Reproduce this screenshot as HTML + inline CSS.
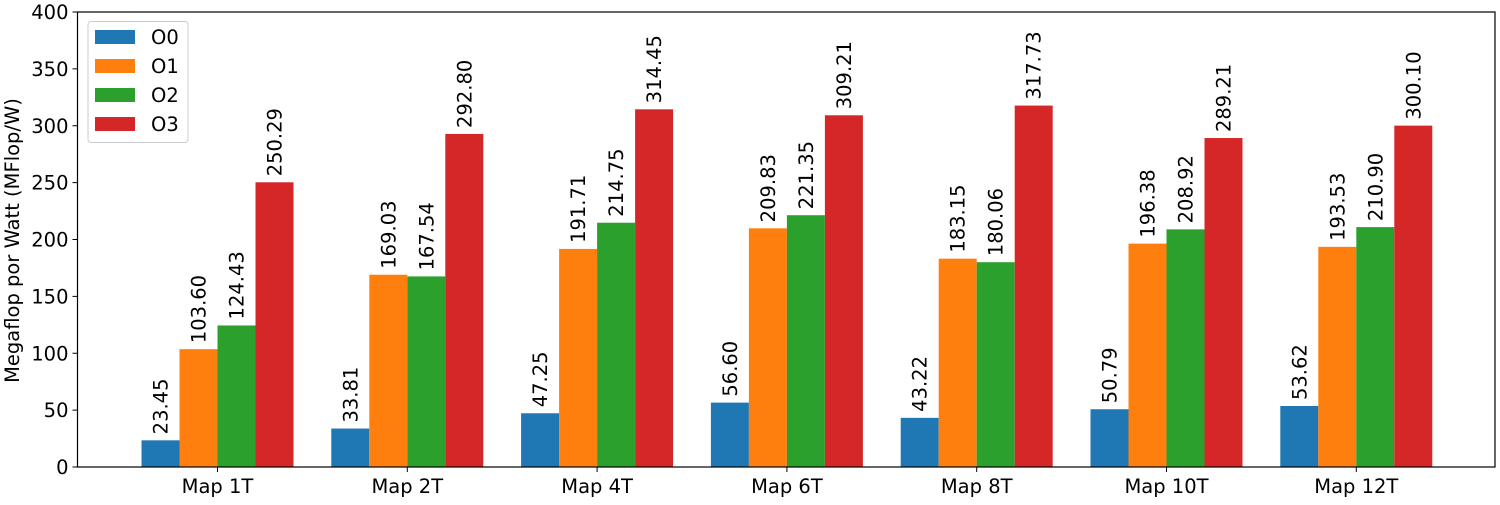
<!DOCTYPE html>
<html><head><meta charset="utf-8"><style>
body{margin:0;background:#fff}
text{font-family:"DejaVu Sans","Liberation Sans",sans-serif;fill:#000}
</style></head><body>
<svg id="chart" width="1500" height="500" xmlns="http://www.w3.org/2000/svg"></svg>
<script>
const categories=["Map 1T","Map 2T","Map 4T","Map 6T","Map 8T","Map 10T","Map 12T"];
const seriesNames=["O0","O1","O2","O3"];
const o0=[23.45,33.81,47.25,56.60,43.22,50.79,53.62];
const o1=[103.60,169.03,191.71,209.83,183.15,196.38,193.53];
const o2=[124.43,167.54,214.75,221.35,180.06,208.92,210.90];
const o3=[250.29,292.80,314.45,309.21,317.73,289.21,300.10];
const yTicks=[0,50,100,150,200,250,300,350,400];
const colors=["#1f77b4","#ff7f0e","#2ca02c","#d62728"];
const series=[o0,o1,o2,o3];
const NS="http://www.w3.org/2000/svg";
const svg=document.getElementById('chart');
const L=77.5,R=1495,T=12,B=467;
const FS=19.5;
const y=v=>B-(v/400)*(B-T);
const x=i=>217.5+i*189.8;
const bw=38;
function mk(tag,attrs,parent){const e=document.createElementNS(NS,tag);for(const k in attrs)e.setAttribute(k,attrs[k]);(parent||svg).appendChild(e);return e;}
series.forEach((s,si)=>{
  s.forEach((v,i)=>{
    const cx=x(i)+(si-1.5)*bw;
    const r=mk('rect',{x:cx-bw/2,y:y(v),width:bw,height:B-y(v),fill:colors[si]});
    
    
    const t=mk('text',{x:0,y:0,'font-size':FS,transform:`translate(${cx+7},${y(v)-6}) rotate(-90)`});
    t.textContent=v.toFixed(2);
    
    
  });
});
const f=mk('rect',{x:L,y:T,width:R-L,height:B-T,fill:'none',stroke:'#000','stroke-width':1.2});


yTicks.forEach(v=>{
  mk('line',{x1:L-5,x2:L,y1:y(v),y2:y(v),stroke:'#000','stroke-width':1});
  const t=mk('text',{x:L-9,y:y(v)+7,'font-size':FS,'text-anchor':'end'});
  t.textContent=v;
  
  
});
categories.forEach((c,i)=>{
  mk('line',{x1:x(i),x2:x(i),y1:B,y2:B+5,stroke:'#000','stroke-width':1});
  const t=mk('text',{x:x(i),y:B+26,'font-size':FS,'text-anchor':'middle'});
  t.textContent=c;
  
  
});
const yt=mk('text',{x:0,y:0,'font-size':FS,'text-anchor':'middle',transform:`translate(19,${(T+B)/2+1}) rotate(-90)`});
yt.textContent='Megaflop por Watt (MFlop/W)';


const lg=mk('g',{});


mk('rect',{x:88,y:21.5,width:100,height:121,rx:3,fill:'#fff','fill-opacity':0.8,stroke:'#ccc'},lg);
seriesNames.forEach((n,si)=>{
  const g=mk('g',{},lg);
  
  
  mk('rect',{x:95,y:30+si*29,width:40,height:14,fill:colors[si]},g);
  const t=mk('text',{x:151,y:44+si*29,'font-size':FS},g);
  t.textContent=n;
});
</script>
</body></html>
